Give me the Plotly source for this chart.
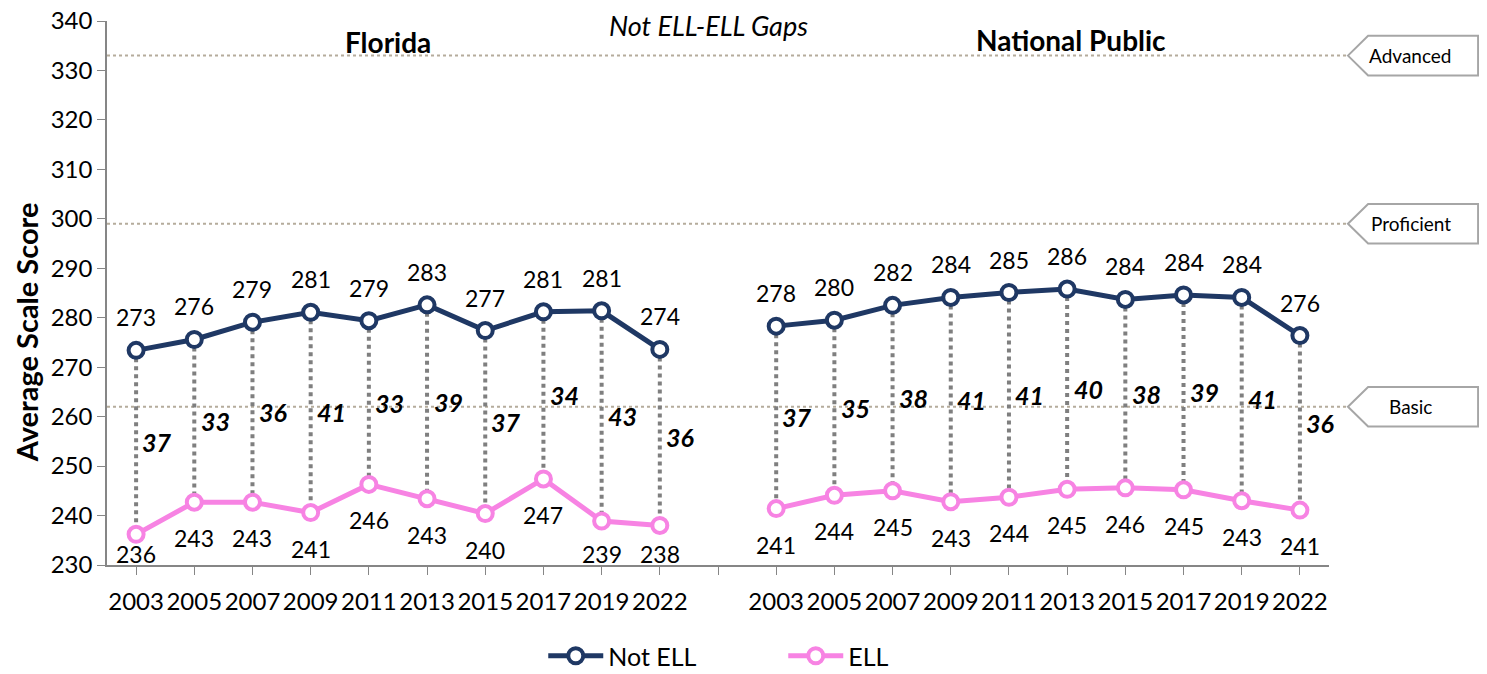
import plotly.graph_objects as go

years = ["2003", "2005", "2007", "2009", "2011", "2013", "2015", "2017", "2019", "2022"]

fl_not_ell = [273.4, 275.6, 279.1, 281.1, 279.4, 282.6, 277.4, 281.2, 281.4, 273.6]
fl_ell = [236.2, 242.7, 242.7, 240.6, 246.3, 243.4, 240.4, 247.4, 238.9, 238.0]
fl_not_ell_lbl = ["273", "276", "279", "281", "279", "283", "277", "281", "281", "274"]
fl_ell_lbl = ["236", "243", "243", "241", "246", "243", "240", "247", "239", "238"]
fl_gap_lbl = ["37", "33", "36", "41", "33", "39", "37", "34", "43", "36"]

np_not_ell = [278.3, 279.5, 282.5, 284.1, 285.1, 285.8, 283.7, 284.6, 284.1, 276.4]
np_ell = [241.4, 244.1, 245.0, 242.8, 243.7, 245.3, 245.6, 245.2, 243.0, 241.1]
np_not_ell_lbl = ["278", "280", "282", "284", "285", "286", "284", "284", "284", "276"]
np_ell_lbl = ["241", "244", "245", "243", "244", "245", "246", "245", "243", "241"]
np_gap_lbl = ["37", "35", "38", "41", "41", "40", "38", "39", "41", "36"]

levels = ["Advanced", "Proficient", "Basic"]
level_cuts = [333, 299, 262]

NAVY = "#1F3864"
PINK = "#F783E3"
FONT = "Lato"
Y_MIN, Y_MAX = 230, 340
PLOT_H = 544  # px height of plot area
PX_PER_UNIT = PLOT_H / (Y_MAX - Y_MIN)

# x positions: Florida 0..9, blank slot 10, National 11..20
fl_x = list(range(len(years)))
np_x = [i + len(years) + 1 for i in range(len(years))]
all_x = fl_x + np_x
not_ell = fl_not_ell + np_not_ell
ell = fl_ell + np_ell

fig = go.Figure()

# dotted gap connectors
cx, cy = [], []
for x, a, b in zip(all_x, not_ell, ell):
    cx += [x, x, None]
    cy += [a, b, None]
fig.add_trace(go.Scatter(x=cx, y=cy, mode="lines", showlegend=False, hoverinfo="skip",
                         line=dict(color="#7F7F7F", width=4, dash="dot")))

for name, series, color in [("Not ELL", (fl_not_ell, np_not_ell), NAVY), ("ELL", (fl_ell, np_ell), PINK)]:
    for k, (xs, ys) in enumerate([(fl_x, series[0]), (np_x, series[1])]):
        fig.add_trace(go.Scatter(
            x=xs, y=ys, mode="lines+markers", name=name, legendgroup=name,
            showlegend=(k == 0),
            line=dict(color=color, width=5),
            marker=dict(symbol="circle", size=15, color="white",
                        line=dict(color=color, width=4)),
        ))

annotations = []
for xs, top, bot, tl, bl, gl in [(fl_x, fl_not_ell, fl_ell, fl_not_ell_lbl, fl_ell_lbl, fl_gap_lbl),
                                 (np_x, np_not_ell, np_ell, np_not_ell_lbl, np_ell_lbl, np_gap_lbl)]:
    for x, a, b, ta, tb, g in zip(xs, top, bot, tl, bl, gl):
        annotations.append(dict(x=x, y=a, text=ta, showarrow=False, yshift=33,
                                font=dict(size=23, color="black", family=FONT)))
        # keep low labels above the x axis
        down = min(36, (b - Y_MIN) * PX_PER_UNIT - 11)
        annotations.append(dict(x=x, y=b, text=tb, showarrow=False, yshift=-down,
                                font=dict(size=23, color="black", family=FONT)))
        annotations.append(dict(x=x, y=(a + b) / 2, text="<b><i>" + g + "</i></b>", showarrow=False,
                                xshift=21, font=dict(size=25, color="black", family=FONT)))

# performance level lines and arrow tags
shapes = []
x_end = 1.0155
for lvl, cut in zip(levels, level_cuts):
    shapes.append(dict(type="line", xref="paper", yref="y", x0=0, x1=x_end, y0=cut, y1=cut,
                       line=dict(color="#B5AC9C", width=2, dash="dot"), layer="below"))
    h = 4.0
    path = (f"M {x_end} {cut} L 1.032 {cut + h} L 1.122 {cut + h} "
            f"L 1.122 {cut - h} L 1.032 {cut - h} Z")
    shapes.append(dict(type="path", xref="paper", yref="y", path=path,
                       fillcolor="white", line=dict(color="#A6A6A6", width=2)))
    annotations.append(dict(xref="paper", yref="y", x=1.067, y=cut, xanchor="center", text=lvl,
                            showarrow=False, font=dict(size=19, color="black", family=FONT)))

annotations += [
    dict(xref="paper", yref="paper", x=0.492, y=1.0, xanchor="center", yanchor="middle", yshift=-4,
         text="<i>Not ELL-ELL Gaps</i>", showarrow=False, font=dict(size=27, color="black", family=FONT)),
    dict(xref="paper", yref="paper", x=0.230, y=0.961, xanchor="center", yanchor="middle",
         text="<b>Florida</b>", showarrow=False, font=dict(size=28, color="black", family=FONT)),
    dict(xref="paper", yref="paper", x=0.789, y=0.965, xanchor="center", yanchor="middle",
         text="<b>National Public</b>", showarrow=False, font=dict(size=28, color="black", family=FONT)),
    dict(xref="paper", yref="paper", x=-0.0663, y=0.428, xanchor="center", yanchor="middle",
         textangle=-90, text="<b>Average Scale Score</b>", showarrow=False,
         font=dict(size=29, color="black", family=FONT)),
]

tick_vals = list(range(len(years) * 2 + 1))
tick_text = years + [""] + years

# page body has an 8px margin, so the figure is 8px smaller and shifted
fig.update_layout(
    width=1479, height=666,
    margin=dict(l=99, r=158, t=13, b=109, autoexpand=False),
    paper_bgcolor="white", plot_bgcolor="white",
    font=dict(family=FONT, color="black"),
    shapes=shapes, annotations=annotations,
    legend=dict(orientation="h", x=0.357, xanchor="left", y=-0.125, yanchor="top",
                font=dict(size=25, family=FONT), itemwidth=55, entrywidth=170,
                traceorder="normal"),
    showlegend=True,
)
fig.update_xaxes(range=[-0.5, 20.5], tickvals=tick_vals, ticktext=tick_text, automargin=False,
                 tickangle=0,
                 showgrid=False, zeroline=False, showline=True, linecolor="#868686", linewidth=1.5,
                 ticks="outside", ticklen=8, tickcolor="#868686",
                 tickfont=dict(size=24, family=FONT), ticklabelstandoff=6)
fig.update_yaxes(range=[Y_MIN, Y_MAX], dtick=10, showgrid=False, zeroline=False, automargin=False,
                 showline=True, linecolor="#868686", linewidth=1.5,
                 ticks="outside", ticklen=8, tickcolor="#868686", ticklabeloverflow="allow",
                 tickfont=dict(size=24, family=FONT))

fig.write_html("out.html")
